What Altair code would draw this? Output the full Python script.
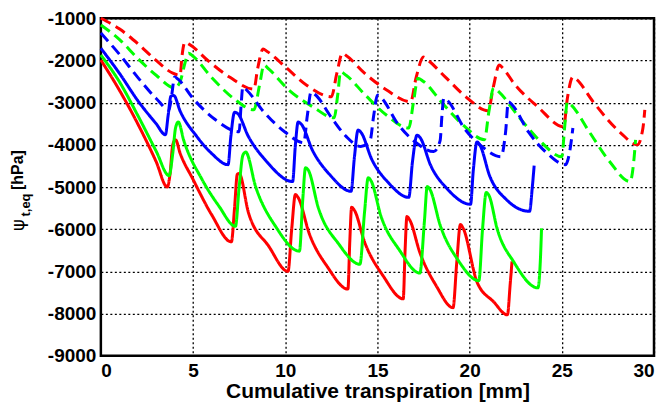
import altair as alt
import pandas as pd

red_solid_x = [0, 1, 2, 3, 3.6, 3.75, 3.9, 4.05, 4.3, 5, 6, 7.08, 7.25, 7.4, 7.5, 8.0, 9.1, 10.15, 10.35, 10.55, 10.7, 11.3, 12.3, 13.4, 13.5, 13.6, 13.75, 14.3, 15.3, 16.4, 16.5, 16.6, 16.75, 17.3, 18.2, 19.1, 19.3, 19.5, 19.65, 20.4, 21.3, 22.05, 22.2, 22.3]
red_solid_y = [-1990, -2700, -3500, -4400, -5000, -4700, -4000, -3880, -4200, -4820, -5650, -6300, -5500, -4700, -4680, -5600, -6400, -7000, -6000, -5180, -5250, -6100, -6900, -7420, -6300, -5480, -5550, -6300, -7100, -7650, -6500, -5700, -5780, -6550, -7350, -7860, -6800, -5890, -5980, -7250, -7720, -8030, -7300, -6760]

green_solid_x = [0, 1, 2, 3, 3.7, 3.9, 4.05, 4.2, 4.5, 5.5, 6.4, 7.3, 7.5, 7.7, 7.85, 8.4, 9.5, 10.77, 10.95, 11.1, 11.25, 11.8, 12.9, 14.05, 14.3, 14.5, 14.65, 15.2, 16.2, 17.3, 17.55, 17.7, 17.85, 18.4, 19.4, 20.5, 20.7, 20.9, 21.05, 21.5, 22.4, 23.7, 23.85, 23.9]
green_solid_y = [-1870, -2500, -3300, -4150, -4730, -4200, -3600, -3460, -3900, -4830, -5450, -5930, -5000, -4250, -4170, -5000, -5950, -6520, -5300, -4540, -4600, -5500, -6350, -6830, -5600, -4780, -4850, -5700, -6500, -7040, -5800, -4990, -5060, -5900, -6750, -7220, -6000, -5130, -5200, -6000, -6780, -7390, -6600, -5980]

blue_solid_x = [0, 1, 2, 3, 3.5, 3.65, 3.8, 3.95, 4.3, 5.2, 6, 6.9, 7.05, 7.25, 7.4, 8, 9, 10.4, 10.55, 10.7, 10.85, 11.5, 12.4, 13.57, 13.75, 13.95, 14.1, 14.7, 15.6, 16.7, 16.9, 17.15, 17.3, 17.9, 18.8, 20.05, 20.2, 20.4, 20.55, 21.1, 22.0, 23.25, 23.4, 23.5]
blue_solid_y = [-1710, -2300, -2950, -3500, -3760, -3300, -2850, -2830, -3200, -3800, -4200, -4470, -3800, -3230, -3250, -3800, -4400, -4870, -4000, -3460, -3500, -4150, -4700, -5100, -4300, -3650, -3700, -4350, -4900, -5245, -4400, -3770, -3820, -4500, -5050, -5410, -4600, -3930, -4000, -4750, -5300, -5575, -5000, -4490]

red_dash_x = [0, 1, 2, 3, 3.9, 4.3, 4.4, 4.55, 4.8, 5.8, 7, 8.3, 8.5, 8.8, 9.0, 10, 11.2, 12.5, 12.8, 13.1, 13.3, 14.3, 15.5, 16.8, 17.1, 17.5, 17.7, 18.7, 19.9, 21.0, 21.3, 21.6, 21.8, 22.4, 23.7, 25.1, 25.3, 25.6, 25.8, 26.7, 28.2, 29.1, 29.4, 29.5]
red_dash_y = [-1000, -1250, -1600, -2000, -2300, -2350, -1900, -1570, -1620, -2000, -2400, -2680, -2200, -1730, -1780, -2150, -2600, -2860, -2300, -1830, -1880, -2300, -2700, -2980, -2400, -1920, -1980, -2400, -2900, -3190, -2600, -2110, -2180, -2540, -3100, -3570, -2900, -2390, -2450, -2980, -3720, -4000, -3600, -3170]

green_dash_x = [0, 1, 2, 3, 4.0, 4.3, 4.6, 4.75, 5.0, 6, 7.2, 8.3, 8.6, 8.85, 9.1, 10.2, 11.5, 12.65, 12.85, 13.0, 13.3, 14.3, 15.5, 16.7, 16.95, 17.2, 17.5, 18.5, 19.7, 20.8, 21.05, 21.3, 21.6, 22.6, 23.8, 25.0, 25.15, 25.3, 25.5, 26.5, 27.6, 28.7, 28.9, 29.0]
green_dash_y = [-1160, -1500, -1950, -2350, -2650, -2500, -2000, -1830, -1900, -2400, -2900, -3170, -2600, -2110, -2200, -2700, -3100, -3360, -2800, -2270, -2350, -2800, -3300, -3600, -3000, -2420, -2500, -3000, -3550, -3880, -3200, -2650, -2750, -3300, -3900, -4280, -3600, -2980, -3050, -3700, -4400, -4870, -4400, -3880]

blue_dash_x = [0, 1, 2, 3, 3.7, 3.85, 4.0, 4.2, 5, 6.2, 7.5, 7.6, 7.7, 7.9, 8.8, 10, 11.0, 11.2, 11.4, 11.6, 12.5, 13.3, 14.1, 14.6, 14.8, 15.0, 15.2, 16.1, 17.1, 18.05, 18.4, 18.5, 18.6, 18.8, 19.7, 20.7, 21.7, 21.95, 22.1, 22.3, 23.2, 24.2, 25.2, 25.45, 25.6]
blue_dash_y = [-1350, -1850, -2400, -2900, -3170, -2800, -2390, -2450, -2900, -3400, -3690, -3100, -2630, -2700, -3200, -3700, -3950, -3300, -2750, -2800, -3350, -3800, -4040, -3900, -3300, -2820, -2880, -3500, -3950, -4160, -3900, -3300, -2890, -2950, -3600, -4050, -4280, -3700, -2980, -3050, -3700, -4200, -4470, -4100, -3600]

series = [
    ("red_solid", red_solid_x, red_solid_y),
    ("green_solid", green_solid_x, green_solid_y),
    ("blue_solid", blue_solid_x, blue_solid_y),
    ("red_dash", red_dash_x, red_dash_y),
    ("green_dash", green_dash_x, green_dash_y),
    ("blue_dash", blue_dash_x, blue_dash_y),
]
rows = []
for name, xs, ys in series:
    for i, (x, y) in enumerate(zip(xs, ys)):
        rows.append({"s": name, "i": i, "x": x, "y": y})
df = pd.DataFrame(rows)

names = [s[0] for s in series]
colors = ["#FF0000", "#00FF00", "#0000FF", "#FF0000", "#00FF00", "#0000FF"]
dashes = [[1, 0], [1, 0], [1, 0], [11, 6], [11, 6], [11, 6]]

FONT = "Liberation Sans"

lines = alt.Chart(df).mark_line(strokeWidth=3, interpolate="monotone").encode(
    x=alt.X("x:Q", scale=alt.Scale(domain=[0, 30], nice=False),
            axis=alt.Axis(values=[0, 5, 10, 15, 20, 25, 30], title="Cumulative transpiration [mm]")),
    y=alt.Y("y:Q", scale=alt.Scale(domain=[-9000, -1000], nice=False),
            axis=alt.Axis(values=list(range(-9000, 0, 1000)), title=None,
                          labelExpr="'' + datum.value")),
    color=alt.Color("s:N", scale=alt.Scale(domain=names, range=colors), legend=None),
    strokeDash=alt.StrokeDash("s:N", scale=alt.Scale(domain=names, range=dashes), legend=None),
    order="i:Q",
)

psi = alt.Chart(pd.DataFrame({"t": ["ψ"]})).mark_text(
    angle=270, fontSize=18, font="DejaVu Sans", align="center", baseline="middle"
).encode(text="t:N", x=alt.value(-82), y=alt.value(207))
sub = alt.Chart(pd.DataFrame({"t": ["t,eq"]})).mark_text(
    angle=270, fontSize=13, font=FONT, fontWeight="bold", align="center", baseline="middle"
).encode(text="t:N", x=alt.value(-75), y=alt.value(187))
unit = alt.Chart(pd.DataFrame({"t": ["[hPa]"]})).mark_text(
    angle=270, fontSize=16, font=FONT, fontWeight="bold", align="center", baseline="middle"
).encode(text="t:N", x=alt.value(-83), y=alt.value(152))

chart = alt.layer(lines, psi, sub, unit).properties(
    width=554, height=338,
    autosize=alt.AutoSizeParams(type="none"),
    padding={"left": 93, "top": 10, "right": 6, "bottom": 48},
).configure_view(stroke="black", strokeWidth=2.5).configure_axis(
    grid=True, gridColor="black", gridDash=[2, 2.5], gridWidth=1.3, gridOpacity=1,
    domain=False, ticks=False,
    labelFont=FONT, labelFontWeight="bold", labelFontSize=19, labelColor="black",
    titleFont=FONT, titleFontWeight="bold", titleFontSize=21, titleColor="black",
).configure_axisX(titlePadding=0, labelPadding=6).configure_axisY(labelPadding=5)

chart.save("out.html", embed_options={"renderer": "svg", "actions": False})
